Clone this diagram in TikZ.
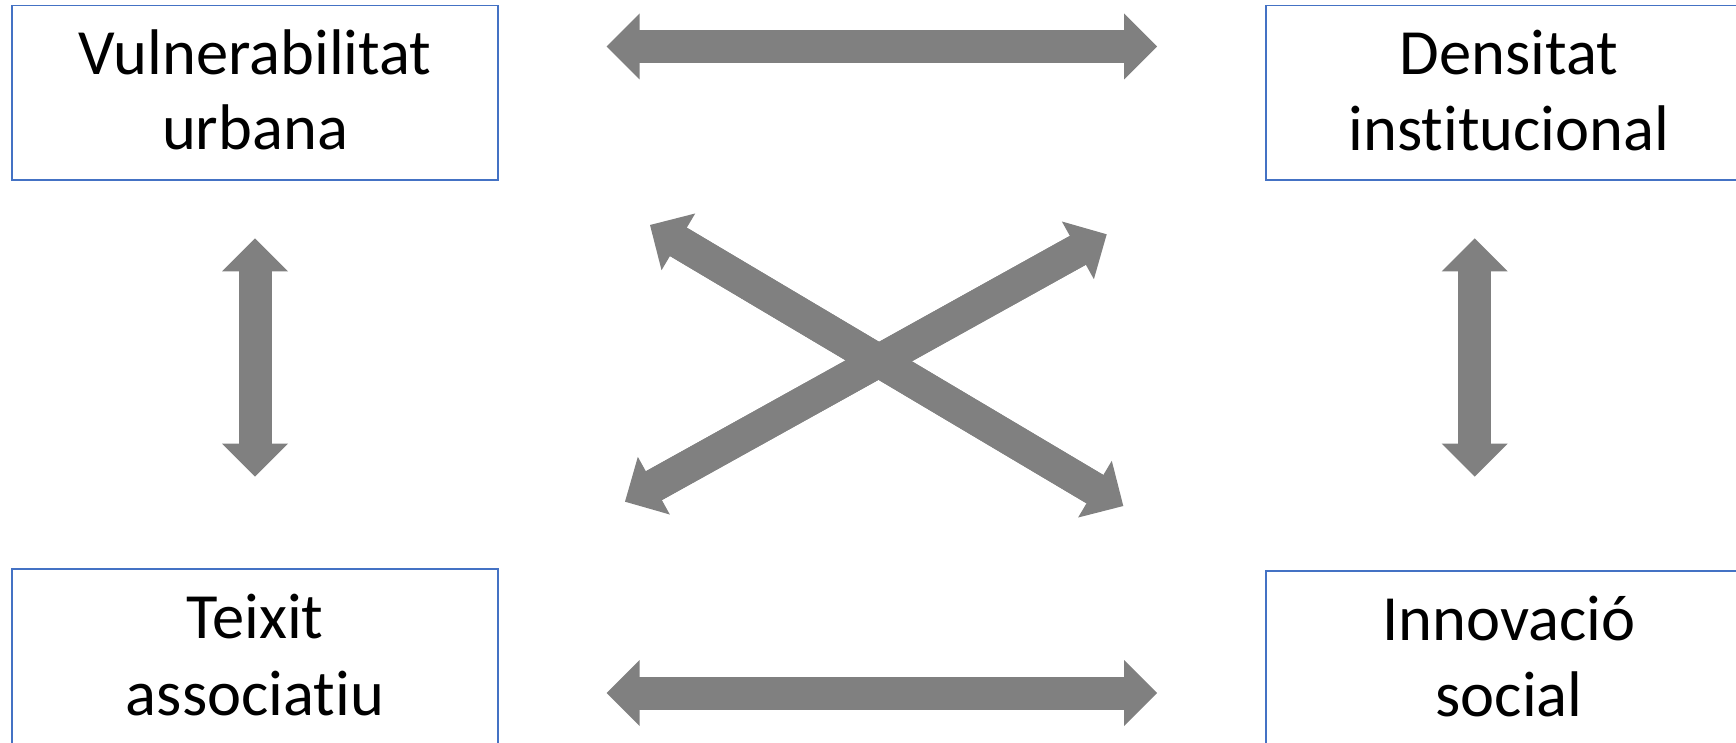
\documentclass[tikz,border=0pt]{standalone}
\usepackage{fontspec}
\setmainfont{Carlito}[Ligatures=NoCommon]
\usetikzlibrary{arrows.meta,calc}
\definecolor{arrowgray}{HTML}{808080}
\definecolor{boxblue}{HTML}{4472C4}
\begin{document}
\begin{tikzpicture}[x=1pt,y=-1pt,
  box/.style={draw=boxblue,line width=1.3pt,rectangle,inner sep=0pt,outer sep=0pt,
    minimum width=486pt,minimum height=174.5pt},
  lbl/.style={inner sep=0pt,outer sep=0pt,anchor=base,font=\fontsize{64.5}{75}\selectfont},
  biarrow/.style={draw=arrowgray,line width=33pt,
    {Triangle[width=66pt,length=33pt,line width=0pt]}-{Triangle[width=66pt,length=33pt,line width=0pt]}},
  shaft/.style={draw=arrowgray,line width=33pt}]
\useasboundingbox (0,0) rectangle (1736,743);
% boxes
\node[box] (vu) at (255,92.75) {};
\node[box] (di) at (1509,92.75) {};
\node[box] (te) at (255,656.25) {};
\node[box] (in) at (1509,658.25) {};
% labels
\node[lbl] (vu1) at (255,75) {Vulnerabilitat};
\node[lbl] (vu2) at (255,150) {urbana};
\node[lbl] (di1) at (1509,75) {Densitat};
\node[lbl] (di2) at (1509,151) {institucional};
\node[lbl] (te1) at (255,638.5) {Teixit};
\node[lbl] (te2) at (255,715) {associatiu};
\node[lbl] (in1) at (1509,640.5) {Innovació};
\node[lbl] (in2) at (1509,716.5) {social};
% arrow end points
\coordinate (ta) at (606.7,46.5);
\coordinate (tb) at (1157,46.5);
\coordinate (ba) at (606.7,693);
\coordinate (bb) at (1157,693);
\coordinate (la) at (255,238.3);
\coordinate (lb) at (255,476.7);
\coordinate (ra) at (1474.7,238.3);
\coordinate (rb) at (1474.7,476.7);
\coordinate (da) at (650,225);
\coordinate (db) at (1123.3,506);
\coordinate (ea) at (625,501.7);
\coordinate (eb) at (1106.7,234.3);
% arrows
\foreach \p/\q in {ta/tb, ba/bb, la/lb, ra/rb, da/db, ea/eb}{
  \draw[biarrow] (\p) -- (\q);
  \draw[shaft] ($(\p)!30pt!(\q)$) -- ($(\q)!30pt!(\p)$);
}
\end{tikzpicture}
\end{document}
